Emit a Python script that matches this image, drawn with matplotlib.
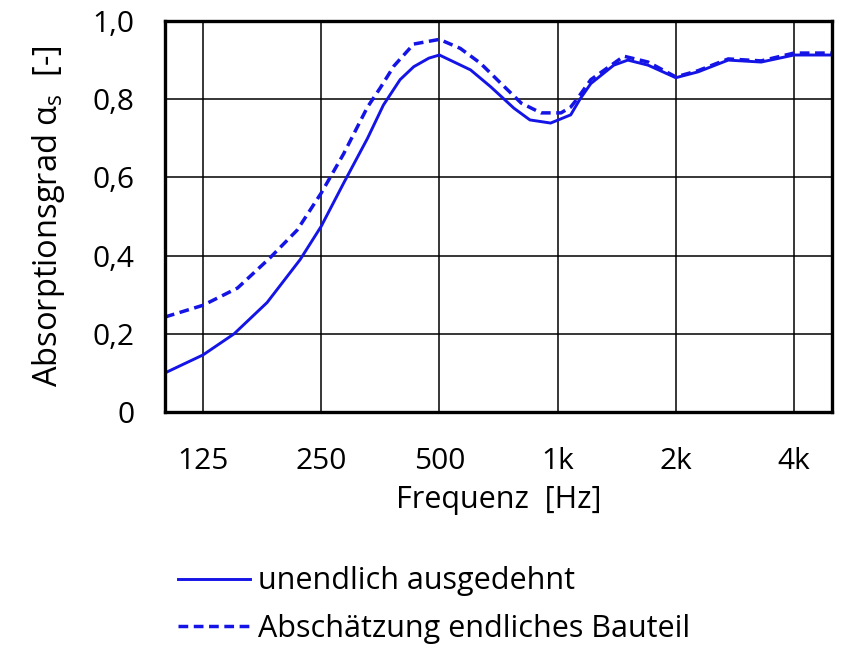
import matplotlib
matplotlib.use('Agg')
import matplotlib.pyplot as plt

plt.rcParams['font.family'] = ['Open Sans', 'DejaVu Sans']

# solid curve: unendlich ausgedehnt
freq_inf = [100, 125, 150, 182, 221, 250, 285, 328, 360, 397, 430, 470, 500, 600, 675, 774, 850,
            960, 1080, 1140, 1215, 1390, 1510, 1700, 2000, 2280, 2720, 3300, 4000, 5000]
alpha_inf = [0.10, 0.146, 0.20, 0.28, 0.39, 0.475, 0.585, 0.70, 0.785, 0.85, 0.883, 0.905, 0.913, 0.875, 0.832, 0.777, 0.747,
             0.739, 0.76, 0.80, 0.84, 0.887, 0.90, 0.887, 0.855, 0.87, 0.90, 0.895, 0.913, 0.913]

# dashed curve: Abschaetzung endliches Bauteil
freq_fin = [100, 125, 153, 185, 217, 250, 285, 328, 354, 383, 430, 500, 565, 636, 718, 808, 907,
            1020, 1080, 1120, 1215, 1475, 1700, 2000, 2280, 2720, 3300, 4000, 5000]
alpha_fin = [0.243, 0.273, 0.317, 0.394, 0.465, 0.56, 0.66, 0.78, 0.83, 0.885, 0.941, 0.953, 0.93, 0.892, 0.84, 0.79, 0.765,
             0.765, 0.78, 0.80, 0.85, 0.91, 0.895, 0.857, 0.873, 0.903, 0.898, 0.918, 0.918]

xticks = [125, 250, 500, 1000, 2000, 4000]
xticklabels = ["125", "250", "500", "1k", "2k", "4k"]
yticks = [0, 0.2, 0.4, 0.6, 0.8, 1.0]
yticklabels = ["0", "0,2", "0,4", "0,6", "0,8", "1,0"]

fig = plt.figure(figsize=(8.43, 6.46), dpi=100)
ax = fig.add_axes([0.1957, 0.3622, 0.7913, 0.6053])

blue = "#1414e6"
ax.plot(freq_inf, alpha_inf, c=blue, lw=2.1, label="unendlich ausgedehnt")
ax.plot(freq_fin, alpha_fin, c=blue, lw=2.5, ls=(0, (2.8, 1.6)), label=u"Abschätzung endliches Bauteil")

ax.set_xscale("log")
ax.set_xlim(100, 5000)
ax.set_ylim(0, 1.0)
ax.set_xticks(xticks)
ax.set_xticklabels(xticklabels, size=21.5)
ax.minorticks_off()
ax.set_yticks(yticks)
ax.set_yticklabels(yticklabels, size=21.5)
ax.tick_params(axis='x', length=0, pad=25)
ax.tick_params(axis='y', length=0, pad=22)
ax.grid(True, color="black", lw=1.1)
ax.set_axisbelow(True)
for s in ax.spines.values():
	s.set_linewidth(2.4)

ax.set_xlabel("Frequenz  [Hz]", size=22, labelpad=7)
ax.set_ylabel(r"Absorptionsgrad α$\mathregular{_s}$  [-]", size=23.5, labelpad=18)

fig.legend(loc="upper left", bbox_to_anchor=(0.197, 0.142), frameon=False, fontsize=22,
           handlelength=2.35, handletextpad=0.25, labelspacing=0.57, borderaxespad=0)

plt.savefig("out.png")
